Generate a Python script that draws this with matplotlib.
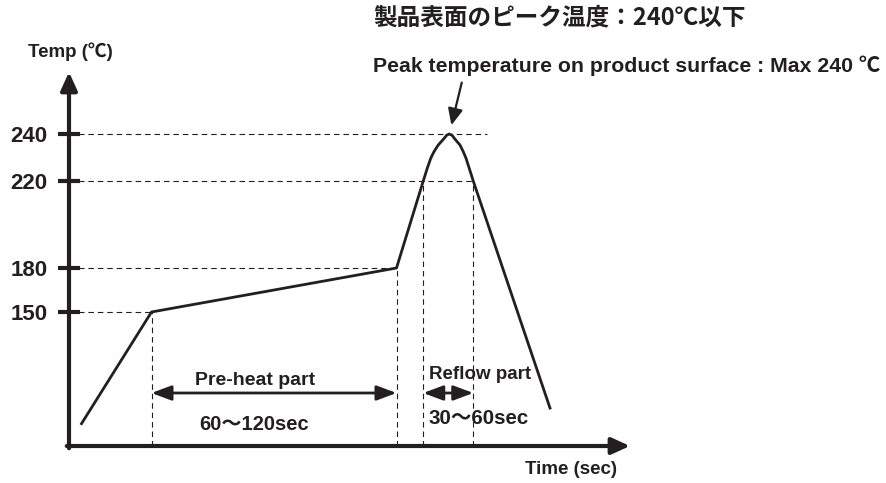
import matplotlib
matplotlib.use('Agg')
import matplotlib.pyplot as plt
import matplotlib.transforms as mtransforms
import numpy as np

# ---------------- data ----------------
time_s = [5, 33, 131, 141.7, 143.3, 144.7, 146, 147.7, 150.1, 151.1, 152.1,
          153.2, 154.1, 156.4, 157.7, 158.8, 160.1, 161.7, 192.4]
temp_c = [25, 150, 180, 220, 225.4, 229.7, 232.5, 235.3, 238.2, 239.5, 240,
          239.5, 238.2, 235.3, 232.5, 229.7, 225.4, 220, 42.5]
tick_temps = [150, 180, 220, 240]
tick_labels = ['150', '180', '220', '240']
preheat_range = [33, 131]
reflow_range = [141.7, 161.7]
reflow_temp = 220
peak_point = [152.1, 240]
peak_line_end = 167
title_jp = '製品表面のピーク温度：240℃以下'
title_en = 'Peak temperature on product surface : Max 240 ℃'
ylabel = 'Temp (℃)'
xlabel = 'Time (sec)'
preheat_label = 'Pre-heat part'
preheat_time = '60～120sec'
reflow_label = 'Reflow part'
reflow_time = '30～60sec'

# ---------------- fonts ----------------
FAM = ['Liberation Sans', 'Noto Sans CJK JP', 'DejaVu Sans']
FAM_JP = ['Noto Sans CJK JP', 'DejaVu Sans']
C = '#231f20'

W, H = 887, 483
fig = plt.figure(figsize=(W / 100, H / 100), dpi=100)


def fx(x):
    return x / W


def fy(y):
    return 1 - y / H


# schematic (non-linear) temperature scale of the diagram
anchor_T = [0, 150, 180, 220, 240, 300]
anchor_h = [0, 134, 178, 265, 312, 453]


def fwd(t):
    return np.interp(t, anchor_T, anchor_h)


def inv(h):
    return np.interp(h, anchor_h, anchor_T)


ax_left, ax_right, ax_bottom, ax_top = 69, 630, 446, 72
ax = fig.add_axes([fx(ax_left), fy(ax_bottom), (ax_right - ax_left) / W,
                   (ax_bottom - ax_top) / H])
ax.set_yscale('function', functions=(fwd, inv))
ax.set_xlim(0, (ax_right - ax_left) / 2.5)
ax.set_ylim(0, float(inv(ax_bottom - ax_top)))
for s in ax.spines.values():
    s.set_visible(False)
ax.set_xticks([])
ax.set_yticks(tick_temps, tick_labels)
ax.yaxis.set_minor_locator(matplotlib.ticker.NullLocator())
ax.tick_params(axis='y', direction='inout', length=16.5, width=3, pad=7,
               labelsize=16, colors=C)
for lab in ax.get_yticklabels():
    lab.set_family(FAM)
    lab.set_fontweight('bold')

# dashed guides
dash = dict(color=C, lw=0.8, ls=(0, (5, 3.5)))
ax.plot([0, preheat_range[0]], [temp_c[1]] * 2, **dash)
ax.plot([0, preheat_range[1]], [temp_c[2]] * 2, **dash)
ax.plot([0, reflow_range[1]], [reflow_temp] * 2, **dash)
ax.plot([0, peak_line_end], [peak_point[1]] * 2, **dash)
ax.plot([preheat_range[0]] * 2, [0, temp_c[1]], **dash)
ax.plot([preheat_range[1]] * 2, [0, temp_c[2]], **dash)
ax.plot([reflow_range[0]] * 2, [0, reflow_temp], **dash)
ax.plot([reflow_range[1]] * 2, [0, reflow_temp], **dash)

# profile
ax.plot(time_s, temp_c, color=C, lw=2.0, solid_joinstyle='round', clip_on=False)

# axes arrows
ax.annotate('', xy=(0, 1), xytext=(0, -0.006), xycoords='axes fraction',
            arrowprops=dict(arrowstyle='-|>,head_length=1.1,head_width=0.5', lw=3,
                            color=C, shrinkA=0, shrinkB=0))
ax.annotate('', xy=(1, 0), xytext=(-0.004, 0), xycoords='axes fraction',
            arrowprops=dict(arrowstyle='-|>,head_length=1.1,head_width=0.5', lw=3,
                            color=C, shrinkA=0, shrinkB=0))

# range arrows (x in data, y in axes fraction)
trans = mtransforms.blended_transform_factory(ax.transData, ax.transAxes)
yarr = (ax_bottom - 393) / (ax_bottom - ax_top)
for rng in (preheat_range, reflow_range):
    ax.annotate('', xy=(rng[1], yarr), xytext=(rng[0], yarr), xycoords=trans,
                arrowprops=dict(arrowstyle='<|-|>,head_length=1.2,head_width=0.45', lw=2,
                                color=C, shrinkA=0, shrinkB=0))

# peak arrow
ax.annotate('', xy=peak_point, xytext=(9, 37), textcoords='offset points',
            arrowprops=dict(arrowstyle='-|>,head_length=1.0,head_width=0.45', lw=1.6,
                            color=C, shrinkA=0, shrinkB=6.5))

# texts
fig.text(fx(373), fy(17), title_jp, family=FAM_JP, weight='bold', fontsize=17,
         color=C, ha='left', va='center')
t_en = fig.text(fx(373), fy(72), title_en, family=FAM, weight='bold', fontsize=18,
                color=C, ha='left', va='baseline')
fig.text(fx(28), fy(57), ylabel, family=FAM, weight='bold', fontsize=13.5,
         color=C, ha='left', va='baseline')
fig.text(fx(525), fy(474), xlabel, family=FAM, weight='bold', fontsize=13.5,
         color=C, ha='left', va='baseline')
fig.text(fx(195), fy(385), preheat_label, family=FAM, weight='bold', fontsize=14,
         color=C, ha='left', va='baseline')
fig.text(fx(199), fy(430), preheat_time, family=FAM, weight='bold', fontsize=14.5,
         color=C, ha='left', va='baseline')
fig.text(fx(429), fy(379), reflow_label, family=FAM, weight='bold', fontsize=13.5,
         color=C, ha='left', va='baseline')
fig.text(fx(429), fy(424), reflow_time, family=FAM, weight='bold', fontsize=14.8,
         color=C, ha='left', va='baseline')

# fit the English peak line to the width it has in the reference
renderer = fig.canvas.get_renderer()
w = t_en.get_window_extent(renderer).width
t_en.set_fontsize(18 * 507 / w)

fig.savefig('out.png', dpi=100)
